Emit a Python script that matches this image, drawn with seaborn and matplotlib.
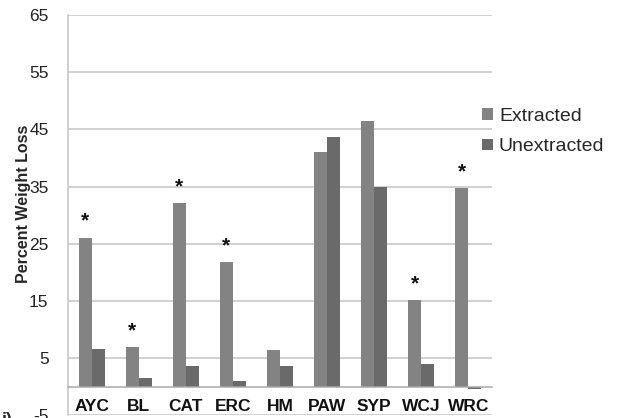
import matplotlib
matplotlib.use("Agg")
import matplotlib.pyplot as plt
from matplotlib.patches import Patch
import seaborn as sns
import pandas as pd

# Wood species and percent weight loss for each treatment
species = ["AYC", "BL", "CAT", "ERC", "HM", "PAW", "SYP", "WCJ", "WRC"]
extracted = [26.1, 7.0, 32.1, 21.8, 6.4, 41.0, 46.4, 15.1, 34.7]
unextracted = [6.6, 1.6, 3.6, 1.0, 3.6, 43.6, 34.9, 4.0, -0.3]
significant = ["AYC", "BL", "CAT", "ERC", "WCJ", "WRC"]
treatments = ["Extracted", "Unextracted"]
y_ticks = [-5, 5, 15, 25, 35, 45, 55, 65]

df = pd.DataFrame({
    "Species": species * 2,
    "Treatment": [treatments[0]] * len(species) + [treatments[1]] * len(species),
    "Loss": extracted + unextracted,
})

sns.set_theme(style="white")
plt.rcParams["font.family"] = ["Liberation Sans", "DejaVu Sans"]

colors = ["#838383", "#6a6a6a"]
grid_color = "#c4c4c4"

fig = plt.figure(figsize=(6.29, 4.18), dpi=100)
ax = fig.add_axes([0.1081, 0.0062, 0.6741, 0.9578])

sns.barplot(data=df, x="Species", y="Loss", hue="Treatment", order=species,
            hue_order=treatments, palette=colors, width=0.55, gap=0,
            linewidth=0, saturation=1, legend=False, ax=ax)

ax.set_ylim(-5, 65)
ax.set_xlim(-0.5, len(species) - 0.5)
ax.set_yticks(y_ticks)
ax.set_yticklabels([str(v) for v in y_ticks], fontsize=12.5)
for v in y_ticks:
    ax.axhline(v, color=grid_color, linewidth=1.1, zorder=0)

# spines: gray left axis, category axis sitting at zero
for s in ["top", "right"]:
    ax.spines[s].set_visible(False)
ax.spines["left"].set_color(grid_color)
ax.spines["left"].set_linewidth(1.1)
ax.spines["bottom"].set_position(("data", 0))
ax.spines["bottom"].set_color("#a8a8a8")
ax.spines["bottom"].set_linewidth(1.1)
ax.tick_params(axis="y", which="major", length=8, color=grid_color, width=1.1,
               pad=6, labelcolor="#222222")

ax.set_xticks(range(len(species)))
ax.set_xticklabels(species, fontsize=12.5, fontweight="bold")
ax.tick_params(axis="x", which="major", length=0, pad=9, labelcolor="#111111")
ax.set_xticks([i + 0.5 for i in range(len(species))], minor=True)
ax.tick_params(axis="x", which="minor", length=5, width=1.1, color="#a8a8a8",
               direction="out")

ax.set_xlabel("")
ax.set_ylabel("Percent Weight Loss", fontsize=11.5, fontweight="bold")
ax.yaxis.set_label_coords(-0.088, 0.528)

# significance markers above the extracted bars
ext_bars = ax.patches[:len(species)]
for name, bar, val in zip(species, ext_bars, extracted):
    if name in significant:
        ax.text(bar.get_x() + bar.get_width() / 2, val + 1.2, "*",
                ha="center", va="bottom", fontsize=15, fontweight="bold",
                color="#111111")

handles = [Patch(facecolor=c, edgecolor="none") for c in colors]
fig.legend(handles, treatments, loc="center left",
           bbox_to_anchor=(0.767, 0.685), frameon=False, fontsize=14,
           handlelength=0.55, handleheight=0.55, handletextpad=0.3,
           labelspacing=0.7, borderpad=0, borderaxespad=0)

fig.text(0.002, 0.0144, "i)", fontsize=13, fontweight="bold", va="top",
         ha="left")

fig.savefig("out.png", dpi=100)
